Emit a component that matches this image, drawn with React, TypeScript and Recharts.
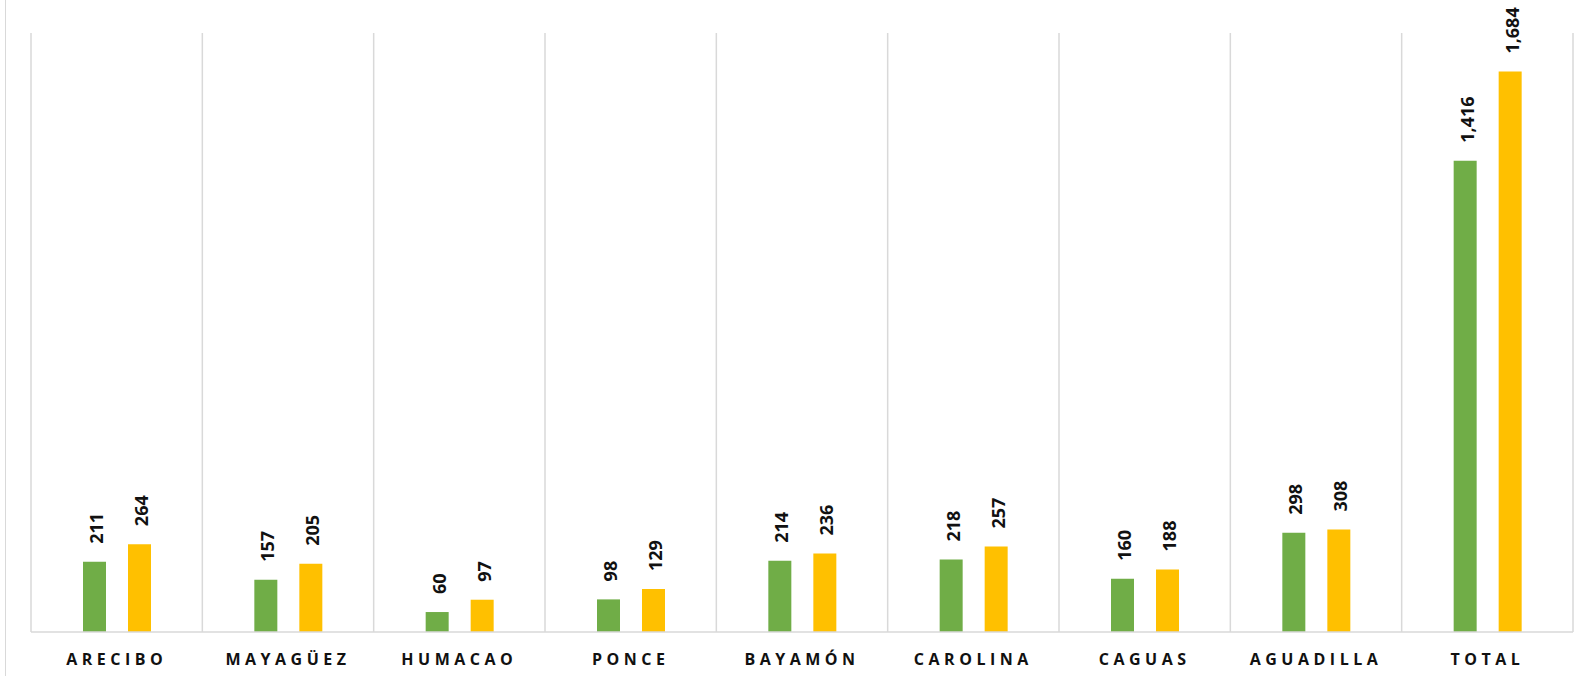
import { BarChart, Bar, XAxis, YAxis, CartesianGrid, LabelList } from "recharts";

const regiones = ["ARECIBO", "MAYAGÜEZ", "HUMACAO", "PONCE", "BAYAMÓN", "CAROLINA", "CAGUAS", "AGUADILLA", "TOTAL"];
const serieAnterior = [211, 157, 60, 98, 214, 218, 160, 298, 1416];
const serieActual = [264, 205, 97, 129, 236, 257, 188, 308, 1684];

const data = regiones.map((region, i) => ({
    region,
    anterior: serieAnterior[i],
    actual: serieActual[i],
}));

const VERDE = "#70AD47";
const AMARILLO = "#FFC000";
const GRIS = "#d9d9d9";

// etiqueta girada encima de cada barra
const EtiquetaVertical = (props: any) => {
    const { x, y, width, value } = props;
    const cx = x + width / 2;
    const px = cx + 8.5;
    const py = y - 18;
    return (
        <text
            x={px}
            y={py}
            transform={`rotate(-90 ${px} ${py})`}
            textAnchor="start"
            fontSize={18}
            fontWeight={700}
            fontFamily="'Open Sans', sans-serif"
            fill="#111"
        >
            {Number(value).toLocaleString("en-US")}
        </text>
    );
};

const TickRegion = (props: any) => {
    const { x, y, payload } = props;
    return (
        <text
            x={x}
            y={y + 25}
            textAnchor="middle"
            fontSize={16}
            fontWeight={700}
            letterSpacing={4.5}
            fontFamily="'Open Sans', sans-serif"
            fill="#111"
        >
            {payload.value}
        </text>
    );
};

export default function App() {
    return (
        <div style={{ position: "absolute", left: 0, top: 0, width: 1580, height: 676, background: "#fff" }}>
            <div style={{ position: "absolute", left: 5, top: 0, width: 0, height: 676, borderLeft: `1px solid ${GRIS}` }} />
            <BarChart
                width={1580}
                height={676}
                data={data}
                margin={{ top: 33, right: 7, bottom: 14, left: 31 }}
                barSize={23}
                barGap={22}
            >
                <CartesianGrid
                    horizontal={false}
                    stroke={GRIS}
                    strokeWidth={1.5}
                    verticalCoordinatesGenerator={({ offset }: any) =>
                        regiones.map((_r, i) => offset.left + (i * offset.width) / regiones.length).concat(offset.left + offset.width)
                    }
                />
                <XAxis
                    dataKey="region"
                    height={30}
                    axisLine={{ stroke: GRIS, strokeWidth: 1.5 }}
                    tickLine={false}
                    interval={0}
                    tick={<TickRegion />}
                />
                <YAxis hide domain={[0, 1800]} />
                <Bar dataKey="anterior" fill={VERDE} isAnimationActive={false}>
                    <LabelList dataKey="anterior" content={<EtiquetaVertical />} />
                </Bar>
                <Bar dataKey="actual" fill={AMARILLO} isAnimationActive={false}>
                    <LabelList dataKey="actual" content={<EtiquetaVertical />} />
                </Bar>
            </BarChart>
        </div>
    );
}
